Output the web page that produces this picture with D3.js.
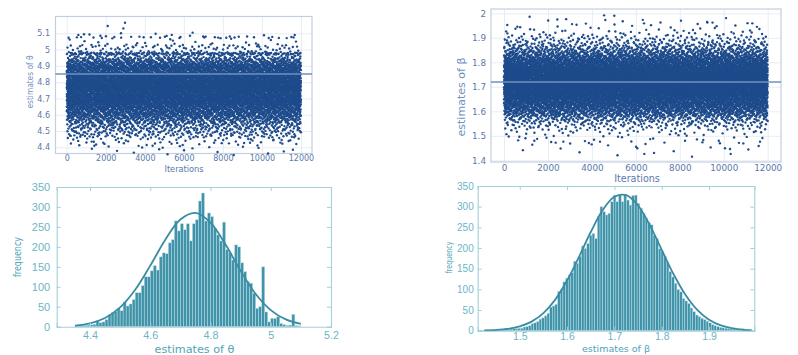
<!DOCTYPE html>
<html><head><meta charset="utf-8">
<script src="https://cdn.jsdelivr.net/npm/d3@7"></script>
<style>body{margin:0;background:#fff}svg{display:block}</style>
</head><body>
<svg id="c" width="798" height="355"></svg>
<script>
// ---------------- data ----------------
const N_ITER = 12000;
const iterTicks = [0, 2000, 4000, 6000, 8000, 10000, 12000];

// histogram of theta estimates (bin start, bin width, counts)
const thetaBinStart = 4.35;
const thetaBinWidth = 0.01;
const thetaCounts = [2,2,3,3,4,5,6,15,10,12,18,30,36,38,46,40,62,52,57,68,
  85,85,103,125,125,140,153,142,175,185,183,210,218,265,240,258,243,258,215,258,
  268,315,335,265,285,276,247,230,215,262,193,185,167,205,200,160,138,113,109,84,
  46,50,150,37,12,21,21,25,8,5,3,4,31,3,2];

// histogram of beta estimates
const betaBinStart = 1.412;
const betaBinWidth = 0.0056;
const betaCounts = [1,1,1,2,1,2,1,2,2,2,6,3,4,5,5,6,6,9,10,12,
  17,19,22,28,31,36,42,57,60,64,95,99,118,127,135,140,168,163,180,205,
  199,211,231,235,223,276,300,288,280,284,312,328,312,328,312,330,316,304,327,328,
  308,296,284,272,262,256,231,223,198,192,180,165,143,130,115,100,94,78,72,66,
  55,46,38,34,30,27,23,19,15,12,10,8,7,6,5,4,4,3,2,2,2,1,1,1];

// fitted density curves (frequency scale)
const thetaCurveX = [4.35,4.40,4.45,4.50,4.55,4.60,4.65,4.70,4.75,4.80,4.85,4.90,4.95,5.00,5.05,5.10];
const thetaCurveY = [2.8,8.4,21.7,48.3,92.5,153,218,268.5,285,260.6,205.7,140,82,41.6,18.2,6.8];
const betaCurveX = [1.425,1.45,1.475,1.50,1.525,1.55,1.575,1.60,1.625,1.65,1.675,1.70,1.725,1.75,1.775,1.80,1.825,1.85,1.875,1.90,1.925,1.95,1.975,1.99];
const betaCurveY = [0.6,1.7,4.4,10.3,21.9,42.5,75.2,121.3,178.2,238.7,291.2,323.8,328,302.8,254.7,195.4,136.5,86.9,50.4,26.6,12.8,5.6,2.2,1.2];

// reference lines in the trace plots
const thetaLine = 4.85;
const betaLine = 1.72;

// individually visible extreme draws in the trace plots
const thetaExtraIter = [2100,2986,2900,2780,595,886,1725,5120,5380,6450,6990,8355,11680,1280,1415,4400,4915,5940,9390,10580,11010,200,717];
const thetaExtraVal  = [5.145,5.165,5.13,5.10,5.09,5.094,5.085,5.084,5.09,5.104,5.08,5.08,5.09,4.435,4.41,4.41,4.398,4.414,4.428,4.443,4.445,4.47,4.475];
const betaExtraIter = [5020,2426,8055,4610,6371,9252,9490,11300,3094,150,606,6385,6066,10057,10285,3990,2350,10890,11650,1380,8237,697,4370,2700];
const betaExtraVal  = [1.990,1.975,1.970,1.973,1.959,1.962,1.962,1.959,1.956,1.952,1.945,1.426,1.449,1.449,1.446,1.465,1.472,1.469,1.476,1.48,1.48,1.496,1.476,1.476];

// tick values / labels
const thetaTraceTicks = [4.4,4.5,4.6,4.7,4.8,4.9,5.0,5.1];
const betaTraceTicks = [1.4,1.5,1.6,1.7,1.8,1.9,2.0];
const thetaHistTicks = [4.4,4.6,4.8,5.0,5.2];
const betaHistTicks = [1.5,1.6,1.7,1.8,1.9];
const freqTicks = [0,50,100,150,200,250,300,350];

// ---------------- drawing ----------------
const svg = d3.select('#c');
const fmt = d => String(+d.toFixed(2));

// radical inverse in base b (Halton sequence component)
function radical(n, b) { let v = 0, f = 1 / b; while (n > 0) { v += (n % b) * f; n = Math.floor(n / b); f /= b; } return v; }

// the draws implied by the histogram counts, laid out over the iterations
// with a Halton(2,3) ordering so that each draw is used exactly once
function drawsFromCounts(counts, start, width) {
  const vals = [];
  counts.forEach((c, k) => { for (let j = 0; j < c; j++) vals.push(start + width * (k + (j + 0.5) / c)); });
  const N = vals.length;
  const order = d3.range(N).sort((a, b) => radical(a + 1, 2) - radical(b + 1, 2));
  return order.map((i, r) => [radical(i + 1, 3) * N_ITER, vals[r]]);
}

function trace(cfg) {
  const g = svg.append('g');
  const x = d3.scaleLinear().domain(cfg.xDomain).range([cfg.left, cfg.right]);
  const y = d3.scaleLinear().domain(cfg.yDomain).range([cfg.bottom, cfg.top]);
  const W = cfg.right - cfg.left, H = cfg.bottom - cfg.top;

  const ax = g.append('g').attr('transform', `translate(0,${cfg.bottom})`)
    .call(d3.axisBottom(x).tickValues(iterTicks).tickFormat(d3.format('d')).tickSize(-H).tickPadding(cfg.xPad));
  const ay = g.append('g').attr('transform', `translate(${cfg.left},0)`)
    .call(d3.axisLeft(y).tickValues(cfg.yTicks).tickFormat(fmt).tickSize(-W).tickPadding(cfg.yPad));
  [ax, ay].forEach(a => {
    a.select('.domain').remove();
    a.selectAll('line').attr('stroke', '#e2e8f1').attr('stroke-width', 0.8);
    a.selectAll('text').attr('fill', '#5a79aa').style('font-family', 'DejaVu Sans')
      .style('font-size', cfg.font + 'px');
  });
  g.append('rect').attr('x', cfg.left).attr('y', cfg.top).attr('width', W).attr('height', H)
    .attr('fill', 'none').attr('stroke', '#c3cfe1').attr('stroke-width', 1.2);

  const pts = drawsFromCounts(cfg.counts, cfg.binStart, cfg.binWidth)
    .concat(cfg.extraIter.map((it, i) => [it, cfg.extraVal[i]]));
  g.append('g').selectAll('circle').data(pts).join('circle')
    .attr('cx', d => x(d[0])).attr('cy', d => y(d[1])).attr('r', cfg.r).attr('fill', '#1e4b8b');

  g.append('line').attr('x1', cfg.left).attr('x2', cfg.right)
    .attr('y1', y(cfg.line)).attr('y2', y(cfg.line))
    .attr('stroke', '#6f90c0').attr('stroke-width', 1.5);

  g.append('text').attr('x', cfg.xlabX).attr('y', cfg.xlabY).attr('text-anchor', 'middle')
    .attr('fill', '#5a79aa').style('font-family', 'DejaVu Sans').style('font-size', cfg.xlabFont + 'px')
    .text('Iterations');
  g.append('text').attr('transform', `translate(${cfg.ylabX},${cfg.ylabY}) rotate(-90)`)
    .attr('text-anchor', 'middle').attr('fill', '#7090bf')
    .style('font-family', 'DejaVu Sans').style('font-size', cfg.ylabFont + 'px')
    .attr('textLength', cfg.ylabLen).attr('lengthAdjust', 'spacingAndGlyphs')
    .text(cfg.ylab);
}

function hist(cfg) {
  const g = svg.append('g');
  const x = d3.scaleLinear().domain(cfg.xDomain).range([cfg.left, cfg.right]);
  const y = d3.scaleLinear().domain([0, 350]).range([cfg.bottom, cfg.top]);

  const bins = cfg.counts.map((c, k) => ({x0: cfg.binStart + k * cfg.binWidth, x1: cfg.binStart + (k + 1) * cfg.binWidth, c}));
  g.append('g').selectAll('rect').data(bins).join('rect')
    .attr('x', d => x(d.x0)).attr('width', d => x(d.x1) - x(d.x0))
    .attr('y', d => y(d.c)).attr('height', d => y(0) - y(d.c))
    .attr('fill', '#4193a9').attr('stroke', '#c4e3ea').attr('stroke-width', 0.45);

  const line = d3.line().x(d => x(d[0])).y(d => y(d[1])).curve(d3.curveCatmullRom);
  g.append('path').datum(cfg.curveX.map((v, i) => [v, cfg.curveY[i]]))
    .attr('d', line).attr('fill', 'none').attr('stroke', '#3a8ca4').attr('stroke-width', 1.8);

  const axes = [
    g.append('g').attr('transform', `translate(0,${cfg.bottom})`)
      .call(d3.axisBottom(x).tickValues(cfg.xTicks).tickFormat(fmt).tickSize(-4).tickPadding(cfg.xPad)),
    g.append('g').attr('transform', `translate(0,${cfg.top})`)
      .call(d3.axisTop(x).tickValues(cfg.xTicks).tickFormat('').tickSize(-4)),
    g.append('g').attr('transform', `translate(${cfg.left},0)`)
      .call(d3.axisLeft(y).tickValues(freqTicks).tickSize(-4).tickPadding(cfg.yPad)),
    g.append('g').attr('transform', `translate(${cfg.right},0)`)
      .call(d3.axisRight(y).tickValues(freqTicks).tickFormat('').tickSize(-4))
  ];
  axes.forEach(a => {
    a.select('.domain').attr('stroke', '#a3d1db').attr('stroke-width', 1.1);
    a.selectAll('line').attr('stroke', '#a3d1db');
    a.selectAll('text').attr('fill', '#6db5c6').style('font-family', 'Liberation Sans');
  });
  axes[0].selectAll('text').style('font-size', cfg.xFont + 'px');
  axes[2].selectAll('text').style('font-size', cfg.yFont + 'px');

  g.append('text').attr('x', cfg.xlabX).attr('y', cfg.xlabY).attr('text-anchor', 'middle')
    .attr('fill', '#4fa4b9').style('font-family', 'DejaVu Sans').style('font-size', cfg.xlabFont + 'px')
    .text(cfg.xlab);
  g.append('text').attr('transform', `translate(${cfg.ylabX},${cfg.ylabY}) rotate(-90)`)
    .attr('text-anchor', 'middle').attr('fill', '#4fa4b9')
    .style('font-family', 'DejaVu Sans').style('font-size', cfg.ylabFont + 'px')
    .attr('textLength', cfg.ylabLen).attr('lengthAdjust', 'spacingAndGlyphs')
    .text('frequency');
}

trace({left: 55.5, right: 312, top: 16.5, bottom: 153.5,
  xDomain: [-575, 12565], yDomain: [4.362, 5.203], yTicks: thetaTraceTicks,
  counts: thetaCounts, binStart: thetaBinStart, binWidth: thetaBinWidth,
  extraIter: thetaExtraIter, extraVal: thetaExtraVal, line: thetaLine,
  r: 1.2, font: 8, xPad: 2.2, yPad: 5.5,
  xlabX: 184, xlabY: 172, xlabFont: 8.2,
  ylabX: 33, ylabY: 82, ylabFont: 9, ylabLen: 53, ylab: 'estimates of θ'});

trace({left: 491, right: 781, top: 9, bottom: 162,
  xDomain: [-592, 12605], yDomain: [1.393, 2.0176], yTicks: betaTraceTicks,
  counts: betaCounts, binStart: betaBinStart, binWidth: betaBinWidth,
  extraIter: betaExtraIter, extraVal: betaExtraVal, line: betaLine,
  r: 1.2, font: 8.8, xPad: 2.5, yPad: 5,
  xlabX: 637, xlabY: 181.5, xlabFont: 9.6,
  ylabX: 465, ylabY: 97, ylabFont: 11, ylabLen: 79, ylab: 'estimates of β'});

hist({left: 56.7, right: 331, top: 187, bottom: 326.7,
  xDomain: [4.2895, 5.2], xTicks: thetaHistTicks,
  counts: thetaCounts, binStart: thetaBinStart, binWidth: thetaBinWidth,
  curveX: thetaCurveX, curveY: thetaCurveY,
  xPad: 4.5, yPad: 6.5, xFont: 10.8, yFont: 11,
  xlabX: 194.5, xlabY: 352.5, xlabFont: 11.2, xlab: 'estimates of θ',
  ylabX: 20.5, ylabY: 257, ylabFont: 11, ylabLen: 40});

hist({left: 477.7, right: 754.3, top: 186, bottom: 330.7,
  xDomain: [1.4112, 1.9955], xTicks: betaHistTicks,
  counts: betaCounts, binStart: betaBinStart, binWidth: betaBinWidth,
  curveX: betaCurveX, curveY: betaCurveY,
  xPad: 2.2, yPad: 4, xFont: 10.5, yFont: 10,
  xlabX: 616, xlabY: 352, xlabFont: 9.5, xlab: 'estimates of β',
  ylabX: 451.5, ylabY: 257.5, ylabFont: 9.5, ylabLen: 32});
</script>
</body></html>
